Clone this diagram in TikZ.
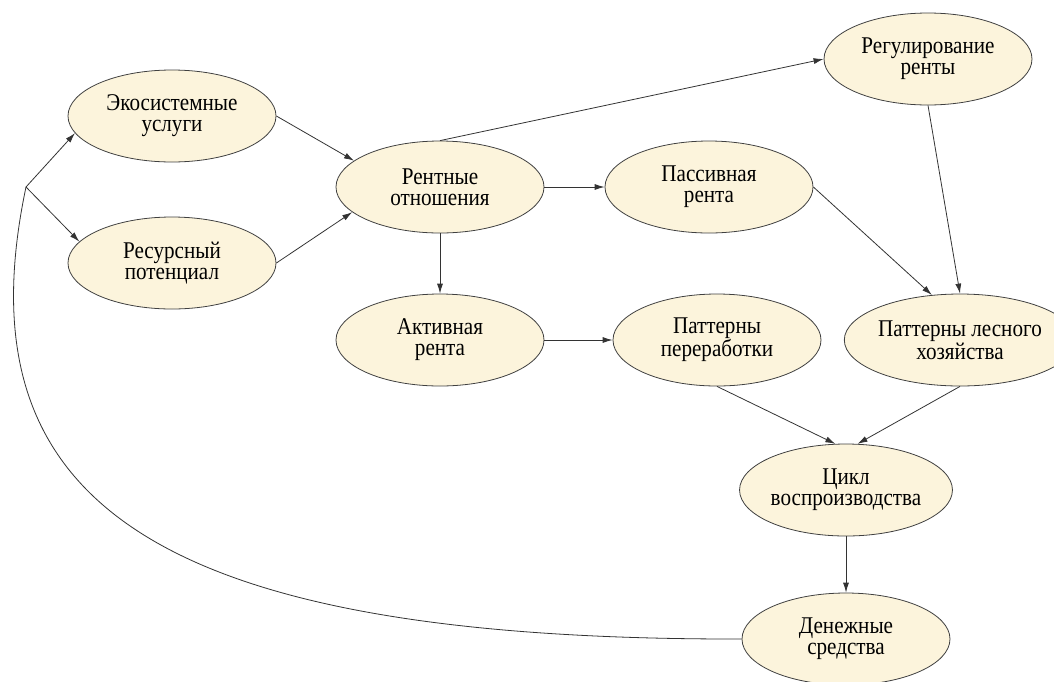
\documentclass[tikz,border=0pt]{standalone}
\usepackage{fontspec}
\setmainfont[FakeStretch=0.88]{Liberation Serif}
\usetikzlibrary{arrows.meta,shapes.geometric}
\definecolor{rentfill}{RGB}{252,244,220}

\begin{document}
\begin{tikzpicture}[x=1pt, y=-1pt,
		bubble/.style={ellipse, draw=black!75, line width=0.8pt, fill=rentfill, minimum width=208pt, minimum height=92pt, inner sep=0pt, align=center, font=\fontsize{24}{21}\selectfont},
		link/.style={draw=black!80, line width=0.8pt, -{Latex[length=10pt,width=6pt]}},
		loopline/.style={draw=black!80, line width=0.8pt}]
			%%%%% START %%%%%
			
			\useasboundingbox (0, 0) rectangle (1054, 681);
			
			\node[bubble] (eco) at (172, 116) {Экосистемные\\услуги};
			\node[bubble] (res) at (172, 263) {Ресурсный\\потенциал};
			\node[bubble] (rent) at (440, 187) {Рентные\\отношения};
			\node[bubble] (reg) at (928, 59) {Регулирование\\ренты};
			\node[bubble] (pas) at (709, 187) {Пассивная\\рента};
			\node[bubble] (akt) at (440, 340) {Активная\\рента};
			\node[bubble] (patproc) at (717, 340) {Паттерны\\переработки};
			\node[bubble] (patforest) at (960, 340) {Паттерны лесного\\хозяйства};
			\node[bubble] (cycle) at (846, 490) {Цикл\\воспроизводства};
			\node[bubble] (money) at (846, 639) {Денежные\\средства};
			
			\coordinate (split) at (26, 187);
			
			\draw[link] (split) -- (eco.190);
			\draw[link] (split) -- (res.167);
			\draw[link] (eco.east) -- (rent.163);
			\draw[link] (res.east) -- (rent.196);
			\draw[link] (rent.north) -- (reg.west);
			\draw[link] (rent.east) -- (pas.west);
			\draw[link] (rent.south) -- (akt.north);
			\draw[link] (akt.east) -- (patproc.west);
			\draw[link] (pas.east) -- (patforest.122);
			\draw[link] (reg.south) -- (patforest.north);
			\draw[link] (patproc.south) -- (cycle.103);
			\draw[link] (patforest.south) -- (cycle.76);
			\draw[link] (cycle.south) -- (money.north);
			
			\draw[loopline] (money.west) .. controls (150, 640) and (-40, 500) .. (split);
			
			%%%%% END %%%%%
		\end{tikzpicture}
\end{document}
